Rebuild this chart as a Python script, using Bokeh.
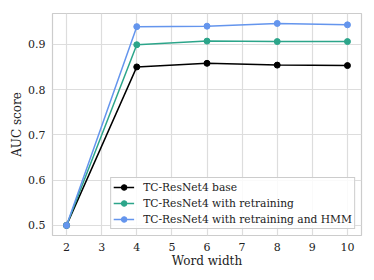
from bokeh.plotting import figure
from bokeh.models import Range1d, Legend, LegendItem, FixedTicker
from bokeh.embed import file_html
from bokeh.resources import INLINE

word_width = [2, 4, 6, 8, 10]
base = [0.500, 0.850, 0.858, 0.854, 0.853]
retrain = [0.500, 0.899, 0.907, 0.906, 0.906]
retrain_hmm = [0.500, 0.939, 0.940, 0.946, 0.943]
labels = ["TC-ResNet4 base", "TC-ResNet4 with retraining", "TC-ResNet4 with retraining and HMM"]
colors = ["#000000", "#2ca58a", "#6495ed"]

FONT = "DejaVu Serif"

p = figure(frame_width=309, frame_height=222, output_backend="svg", toolbar_location=None,
           x_range=Range1d(1.6, 10.4), y_range=Range1d(0.4777, 0.968),
           min_border_left=52, min_border_right=5, min_border_top=13, min_border_bottom=37)
p.background_fill_color = "white"
p.border_fill_color = "white"
p.outline_line_color = "#cccccc"
p.outline_line_width = 1.2

items = []
for ys, lab, col in zip([base, retrain, retrain_hmm], labels, colors):
    r1 = p.line(word_width, ys, line_color=col, line_width=1.5)
    r2 = p.scatter(word_width, ys, size=6, fill_color=col, line_color=col)
    items.append(LegendItem(label=lab, renderers=[r1, r2]))

p.xaxis.ticker = FixedTicker(ticks=[2, 3, 4, 5, 6, 7, 8, 9, 10])
p.yaxis.ticker = FixedTicker(ticks=[0.5, 0.6, 0.7, 0.8, 0.9])
p.xaxis.axis_label = "Word width"
p.yaxis.axis_label = "AUC score"
for ax in [p.xaxis[0], p.yaxis[0]]:
    ax.axis_line_color = None
    ax.major_tick_line_color = None
    ax.minor_tick_line_color = None
    ax.major_label_text_font = FONT
    ax.major_label_text_font_size = "11px"
    ax.major_label_text_color = "#222222"
    ax.axis_label_text_font = FONT
    ax.axis_label_text_font_size = "12px"
    ax.axis_label_text_font_style = "normal"
    ax.axis_label_text_color = "#222222"
p.xaxis.major_label_standoff = 1
p.xaxis.axis_label_standoff = 0
p.yaxis.major_label_standoff = 1
p.yaxis.axis_label_standoff = 1

p.xgrid.grid_line_color = "#dddddd"
p.ygrid.grid_line_color = "#dddddd"
p.xgrid.grid_line_width = 1.2
p.ygrid.grid_line_width = 1.2

legend = Legend(items=items, location="bottom_right")
legend.label_text_font = FONT
legend.label_text_font_size = "10.7px"
legend.label_text_color = "#222222"
legend.border_line_color = "#cccccc"
legend.border_line_alpha = 1
legend.background_fill_alpha = 0.85
legend.glyph_width = 21
legend.glyph_height = 14
legend.label_height = 14
legend.spacing = 2
legend.padding = 2
legend.margin = 6
legend.label_standoff = 9
p.add_layout(legend)

open("out.html", "w").write(file_html(p, INLINE))
